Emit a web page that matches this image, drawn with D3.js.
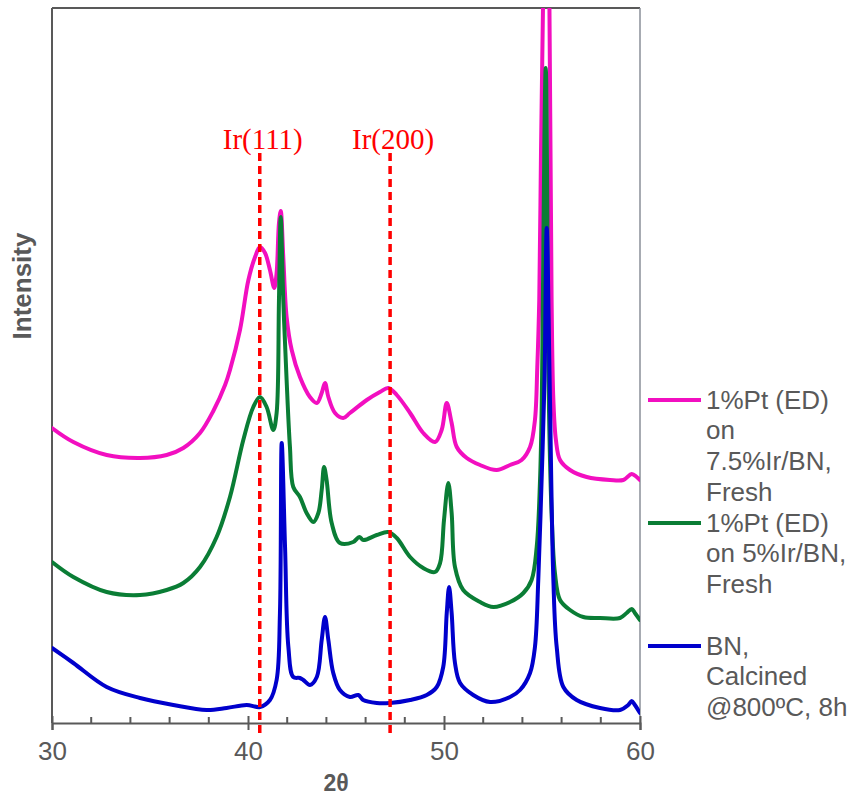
<!DOCTYPE html>
<html>
<head>
<meta charset="utf-8">
<script src="https://cdn.jsdelivr.net/npm/d3@7"></script>
<style>
  html, body { margin: 0; padding: 0; background: #fff; }
  svg { display: block; }
</style>
</head>
<body>
<svg id="chart" width="851" height="798"></svg>
<script>
// ---- Data (2θ in degrees, intensity in arbitrary units incl. stacking offset) ----
const seriesNames = ["1%Pt (ED) on 7.5%Ir/BN, Fresh", "1%Pt (ED) on 5%Ir/BN, Fresh", "BN, Calcined @800ºC, 8h"];
const legendLines = [
  ["1%Pt (ED)", "on", "7.5%Ir/BN,", "Fresh"],
  ["1%Pt (ED)", "on 5%Ir/BN,", "Fresh"],
  ["BN,", "Calcined", "@800ºC, 8h"]
];
const seriesColors = ["#f20fc0", "#0a7d35", "#0000cc"];

const pinkTheta = [30.0,31.09,32.79,34.49,35.85,36.70,37.55,38.23,38.83,39.08,39.59,40.02,40.36,40.61,40.87,41.12,41.34,41.46,41.58,41.67,41.80,41.97,42.23,42.65,43.16,43.51,43.76,43.93,44.10,44.44,44.86,45.20,46.06,46.73,47.16,47.59,48.27,48.94,49.54,49.88,50.14,50.39,50.65,51.16,51.84,52.69,53.37,53.96,54.39,54.64,54.76,54.86,54.95,55.05,55.22,55.38,55.49,55.58,55.71,55.92,56.43,57.28,58.47,59.15,59.58,59.83,60.0];
const pinkI =     [295,281,268,265,268,275,290,312,338,353,393,443,466,476,470,453,435,450,500,512,466,406,373,346,326,320,330,340,326,310,305,310,323,331,335,328,310,290,281,293,320,300,276,265,258,253,258,263,276,303,356,423,573,715,1000,715,423,323,283,263,253,246,243,243,249,246,243];

const greenTheta = [30.0,31.09,32.79,34.49,35.85,36.70,37.55,38.40,39.08,39.76,40.27,40.61,40.95,41.29,41.46,41.58,41.67,41.80,41.97,42.14,42.31,42.65,42.99,43.33,43.59,43.76,43.88,44.01,44.27,44.69,45.37,45.68,45.88,46.57,47.16,47.59,48.27,48.94,49.54,49.80,50.00,50.22,50.39,50.56,50.98,51.84,52.52,53.37,54.05,54.47,54.73,54.90,54.98,55.19,55.36,55.49,55.66,55.92,56.43,57.11,57.96,58.98,59.32,59.58,59.74,60.0];
const greenI =     [161,146,131,128,133,140,156,186,226,283,316,326,316,293,310,423,506,423,343,276,236,226,210,201,210,233,256,243,200,180,181,186,183,188,191,185,166,155,151,160,203,240,210,156,133,121,116,121,130,143,176,243,310,655,310,210,150,123,113,106,105,105,110,114,110,103];

const blueTheta = [30.0,31.09,32.79,34.49,36.19,37.89,38.91,39.93,40.61,41.12,41.46,41.63,41.72,41.89,42.06,42.31,42.65,42.82,43.16,43.51,43.76,43.93,44.10,44.35,44.69,45.20,45.63,45.88,46.57,47.24,48.27,49.12,49.63,49.96,50.14,50.26,50.39,50.56,50.82,51.49,52.35,53.37,53.88,54.39,54.64,54.81,54.98,55.13,55.24,55.39,55.58,55.75,56.09,56.77,57.96,58.98,59.40,59.58,59.74,60.0];
const blueI =     [75,60,36,25,18,13,15,18,16,23,43,110,280,176,76,46,45,43,38,46,83,106,83,50,33,26,28,23,20,20,23,28,36,56,110,136,110,60,40,28,21,26,33,50,76,143,243,343,495,343,143,76,36,23,15,13,18,22,18,10];

const refLabels = ["Ir(111)", "Ir(200)"];
const refTheta = [40.6, 47.25];

const xTickValues = [30, 40, 50, 60];
const xMinorTicks = [32, 34, 36, 38, 42, 44, 46, 48, 52, 54, 56, 58];

// ---- Layout ----
const svg = d3.select("#chart");
const L = 52, R = 640, T = 8, B = 723;
const x = d3.scaleLinear().domain([30, 60]).range([L, R]);
const y = d3.scaleLinear().domain([0, 715]).range([B, T]);
const axisColor = "#595959";

svg.append("defs").append("clipPath").attr("id", "plotClip")
  .append("rect").attr("x", L).attr("y", T).attr("width", R - L).attr("height", B - T);

// frame
svg.append("line").attr("x1", L).attr("x2", R).attr("y1", T).attr("y2", T)
  .attr("stroke", axisColor).attr("stroke-width", 2);
svg.append("line").attr("x1", R).attr("x2", R).attr("y1", T).attr("y2", B)
  .attr("stroke", "#8a8f99").attr("stroke-width", 1.5);
svg.append("line").attr("x1", L).attr("x2", L).attr("y1", T).attr("y2", B)
  .attr("stroke", axisColor).attr("stroke-width", 2);

// series
const allSeries = [
  pinkTheta.map((t, i) => [t, pinkI[i]]),
  greenTheta.map((t, i) => [t, greenI[i]]),
  blueTheta.map((t, i) => [t, blueI[i]])
];
const line = d3.line().x(d => x(d[0])).y(d => y(d[1])).curve(d3.curveCatmullRom.alpha(0.5));
const plotG = svg.append("g").attr("clip-path", "url(#plotClip)");
allSeries.forEach((s, i) => {
  plotG.append("path").datum(s).attr("d", line)
    .attr("fill", "none").attr("stroke", seriesColors[i])
    .attr("stroke-width", 4).attr("stroke-linejoin", "round").attr("stroke-linecap", "round");
});

// reference dashed lines
refTheta.forEach((t, i) => {
  svg.append("line").attr("x1", x(t)).attr("x2", x(t)).attr("y1", 153).attr("y2", 735)
    .attr("stroke", "#ff0000").attr("stroke-width", 3.5).attr("stroke-dasharray", "8,5");
  svg.append("text").attr("x", x(t) + 3).attr("y", 149).attr("text-anchor", "middle")
    .attr("font-family", "'Liberation Serif', 'Times New Roman', serif").attr("font-size", 29)
    .attr("fill", "#ff0000").text(refLabels[i]);
});

// x axis
const xAxis = d3.axisBottom(x).tickValues(xTickValues).tickSize(7).tickPadding(0).tickFormat(d3.format("d"));
const gx = svg.append("g").attr("transform", `translate(0,${B})`).call(xAxis);
gx.select(".domain").attr("stroke", axisColor).attr("stroke-width", 2);
gx.selectAll(".tick line").attr("stroke", axisColor).attr("stroke-width", 2).attr("y1", -7);
gx.selectAll(".tick text").attr("fill", axisColor)
  .attr("font-family", "'Liberation Sans', Arial, sans-serif").attr("font-size", 26)
  .attr("dy", null).attr("y", 37);
const gMinor = svg.append("g");
xMinorTicks.forEach(v => {
  gMinor.append("line").attr("x1", x(v)).attr("x2", x(v)).attr("y1", B - 6).attr("y2", B)
    .attr("stroke", axisColor).attr("stroke-width", 2);
});

// axis titles
svg.append("text").attr("x", 336).attr("y", 791).attr("text-anchor", "middle")
  .attr("font-family", "'Liberation Sans', Arial, sans-serif").attr("font-weight", "bold")
  .attr("font-size", 23).attr("fill", axisColor).text("2θ");
svg.append("text").attr("transform", "translate(31,286) rotate(-90)").attr("text-anchor", "middle")
  .attr("font-family", "'Liberation Sans', Arial, sans-serif").attr("font-weight", "bold")
  .attr("font-size", 26).attr("fill", axisColor).text("Intensity");

// legend
const legendY = [400, 523, 646];
legendLines.forEach((lines, i) => {
  const g = svg.append("g");
  g.append("line").attr("x1", 648).attr("x2", 701).attr("y1", legendY[i]).attr("y2", legendY[i])
    .attr("stroke", seriesColors[i]).attr("stroke-width", 4);
  lines.forEach((txt, j) => {
    g.append("text").attr("x", 706).attr("y", legendY[i] + 8.5 + j * 30.7)
      .attr("font-family", "'Liberation Sans', Arial, sans-serif").attr("font-size", 26)
      .attr("fill", axisColor).text(txt);
  });
});
</script>
</body>
</html>
